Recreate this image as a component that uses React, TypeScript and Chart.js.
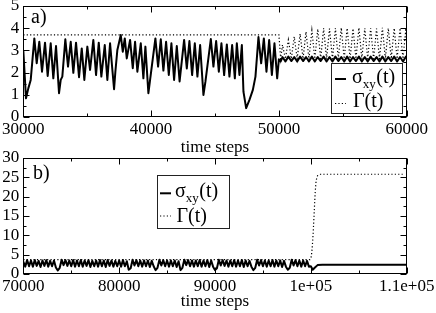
import { useEffect, useRef } from 'react';
import { Chart, registerables } from 'chart.js';

Chart.register(...registerables);

const FONT = '"Liberation Serif", "Times New Roman", Times, serif';

// ---------- text ----------
const X_TITLE = 'time steps';
const TAG_A = 'a)';
const TAG_B = 'b)';
const SIGMA_GLYPH = 'σ';
const SIGMA_SUB = 'xy';
const GAMMA_GLYPH = 'Γ';
const ARG = '(t)';

// ---------- panel a ----------
const A_X_MIN = 30000;
const A_X_MAX = 60000;
const A_X_STEP = 5000;
const A_X_LABEL_EVERY = 10000;
const A_Y_MIN = 0;
const A_Y_MAX = 5;
const A_Y_STEP = 0.5;
const A_Y_LABEL_EVERY = 1;

const A_SIGMA_T = [
  30000, 30211, 30392, 30580, 30863, 31048, 31253, 31464, 31699, 31908,
  32145, 32349, 32560, 32795, 32928, 33054, 33289, 33500, 33711, 33915,
  34126, 34361, 34573, 34776, 35011, 35223, 35481, 35692, 35904, 36107,
  36374, 36577, 36789, 37102, 37204, 37360, 37626, 37783, 37940, 38096,
  38355, 38566, 38746, 38926, 39192, 39396, 39553, 39788, 39921, 40336,
  40547, 40758, 40962, 41173, 41385, 41589, 41800, 42011, 42230, 42583,
  42794, 42998, 43209, 43420, 43624, 43836, 44094, 44251, 44673, 44877,
  45089, 45300, 45503, 45715, 45926, 46130, 46341, 46553, 46709, 46913,
  47101, 47226, 47437, 47696, 47962, 48166, 48401, 48612, 48823, 49027,
  49238, 49450, 49653, 49865, 50000,
];
const A_SIGMA_V = [
  3.02, 0.84, 1.29, 1.67, 3.54, 2.42, 3.39, 2.04, 3.35, 1.85,
  3.32, 1.74, 3.2, 1.07, 1.67, 1.82, 3.5, 2.27, 3.39, 1.99,
  3.35, 1.79, 3.09, 1.67, 3.17, 2.12, 3.47, 1.89, 3.35, 1.82,
  3.24, 1.67, 3.32, 1.25, 2.04, 3.02, 3.69, 2.94, 3.54, 2.64,
  3.47, 2.2, 3.39, 2.04, 3.32, 1.74, 3.17, 1.07, 1.67, 3.54,
  2.27, 3.5, 2.09, 3.39, 1.89, 3.32, 1.67, 3.2, 1.6, 3.47,
  2.19, 3.42, 1.89, 3.32, 1.82, 3.24, 0.99, 1.59, 3.51, 2.27,
  3.42, 2.04, 3.32, 1.89, 3.27, 1.82, 3.24, 1.74, 3.32, 1.89,
  3.24, 1.14, 0.4, 0.77, 1.22, 1.82, 3.6, 2.42, 3.54, 2.04,
  3.47, 1.89, 3.32, 1.74, 2.6,
];
// after 50000 both quantities share the same turning times
const A_TAIL_T = [
  50140, 50280, 50510, 50740, 50970, 51200, 51430, 51660, 51890, 52120,
  52350, 52580, 52810, 53040, 53270, 53500, 53730, 53960, 54190, 54420,
  54650, 54880, 55110, 55340, 55570, 55800, 56030, 56260, 56490, 56720,
  56950, 57180, 57410, 57640, 57870, 58100, 58330, 58560, 58790, 59020,
  59250, 59480, 59710, 59940, 60000,
];
const A_SIGMA_TAIL_V = [
  2.5, 2.7, 2.5, 2.72, 2.52, 2.7, 2.5, 2.72, 2.52, 2.7,
  2.5, 2.72, 2.5, 2.7, 2.52, 2.72, 2.5, 2.7, 2.5, 2.72,
  2.52, 2.7, 2.5, 2.72, 2.5, 2.7, 2.52, 2.72, 2.5, 2.7,
  2.5, 2.72, 2.52, 2.7, 2.5, 2.72, 2.5, 2.7, 2.52, 2.72,
  2.5, 2.7, 2.5, 2.72, 2.64,
];
const A_GAMMA_HEAD_T = [30000, 50000];
const A_GAMMA_HEAD_V = [3.7, 3.7];
const A_GAMMA_TAIL_V = [
  2.62, 3.25, 2.62, 3.47, 2.62, 3.62, 2.62, 3.75, 2.62, 3.84,
  2.62, 3.9, 2.62, 3.96, 2.62, 4.0, 2.62, 3.98, 2.62, 4.0,
  2.62, 4.02, 2.62, 4.0, 2.62, 3.98, 2.62, 4.02, 2.62, 4.0,
  2.62, 4.0, 2.62, 3.98, 2.62, 4.02, 2.62, 4.0, 2.62, 4.0,
  2.62, 4.0, 2.62, 4.0, 3.3,
];

// ---------- panel b ----------
const B_X_MIN = 70000;
const B_X_MAX = 110000;
const B_X_STEP = 5000;
const B_X_LABEL_EVERY = 10000;
const B_Y_MIN = 0;
const B_Y_MAX = 30;
const B_Y_STEP = 2.5;
const B_Y_LABEL_EVERY = 5;

// sigma sampled every 200 steps from 70000 to 100000
const B_SIGMA_START = 70000;
const B_SIGMA_STEP = 200;
const B_SIGMA_V = [
  3.2, 1.9, 3.6, 2.0, 3.5, 1.9, 3.6, 2.1, 3.4, 1.8,
  3.5, 2.1, 3.6, 1.9, 3.4, 2.0, 3.5, 1.7, 0.9, 1.6,
  3.7, 2.3, 3.6, 2.1, 3.5, 2.0, 3.6, 1.9, 3.5, 2.0,
  3.6, 1.9, 3.5, 2.1, 3.6, 1.8, 3.4, 2.0, 3.5, 1.9,
  3.6, 2.0, 3.5, 1.8, 3.6, 2.1, 3.5, 1.9, 3.4, 2.0,
  3.5, 1.9, 3.6, 2.0, 3.3, 1.1, 1.5, 3.7, 2.2, 3.6,
  2.0, 3.5, 1.9, 3.5, 2.0, 3.5, 1.8, 3.4, 2.0, 1.0,
  1.6, 3.7, 2.2, 3.6, 2.0, 3.5, 1.9, 3.5, 2.0, 3.5,
  1.8, 3.3, 1.0, 1.6, 3.7, 2.3, 3.6, 2.0, 3.5, 1.9,
  3.5, 2.0, 3.6, 1.9, 3.5, 2.0, 3.6, 1.8, 3.5, 1.9,
  1.0, 1.5, 3.7, 2.2, 3.6, 2.1, 3.5, 1.9, 3.5, 2.0,
  3.6, 1.9, 3.5, 2.0, 3.6, 1.8, 3.5, 2.0, 3.4, 1.9,
  1.0, 1.6, 3.7, 2.2, 3.6, 2.0, 3.5, 1.9, 3.5, 2.0,
  3.6, 1.9, 3.5, 2.0, 3.5, 1.8, 3.4, 1.9, 1.1, 1.6,
  3.7, 2.2, 3.6, 2.0, 3.5, 1.9, 3.5, 2.0, 3.4, 1.9,
  2.0,
];
const B_SIGMA_TAIL_T = [100200, 100400, 100700, 101200, 110000];
const B_SIGMA_TAIL_V = [1.1, 1.6, 2.3, 2.4, 2.4];
const B_GAMMA_T = [70000, 99900, 100050, 100150, 100250, 100350, 100450, 100550, 100700, 101000, 109750];
const B_GAMMA_V = [3.7, 3.7, 4.5, 7, 11, 16, 21, 24.2, 25.4, 25.8, 25.8];

// ---------- helpers ----------
const zip = (t: number[], v: number[]) => {
  const n = Math.min(t.length, v.length);
  const out: { x: number; y: number }[] = [];
  for (let i = 0; i < n; i++) out.push({ x: t[i], y: v[i] });
  return out;
};
const sampled = (start: number, step: number, v: number[]) => v.map((y, i) => ({ x: start + i * step, y }));

const fmtTick = (v: number) => {
  if (v < 100000) return String(v);
  const e = Math.floor(Math.log10(v));
  const m = +(v / Math.pow(10, e)).toFixed(3);
  return `${m}e+${String(e).padStart(2, '0')}`;
};
const isMultiple = (v: number, m: number) => Math.abs(v / m - Math.round(v / m)) < 1e-6;

const drawSigmaLabel = (ctx: CanvasRenderingContext2D, x: number, baseline: number) => {
  ctx.font = `20px ${FONT}`;
  ctx.fillText(SIGMA_GLYPH, x, baseline);
  let w = ctx.measureText(SIGMA_GLYPH).width;
  ctx.font = `13px ${FONT}`;
  ctx.fillText(SIGMA_SUB, x + w, baseline + 5);
  w += ctx.measureText(SIGMA_SUB).width;
  ctx.font = `20px ${FONT}`;
  ctx.fillText(ARG, x + w + 0.5, baseline);
};

const framePlugin = {
  id: 'frameTicks',
  afterDatasetsDraw(chart: any) {
    const { ctx, chartArea: a, scales } = chart;
    const L = Math.round(a.left) + 0.5;
    const R = Math.round(a.right) - 0.5;
    const T = Math.round(a.top) + 0.5;
    const B = Math.round(a.bottom) - 0.5;
    ctx.save();
    ctx.strokeStyle = '#000';
    ctx.lineWidth = 1;
    ctx.setLineDash([]);
    ctx.strokeRect(L, T, R - L, B - T);
    ctx.beginPath();
    for (const t of scales.x.ticks) {
      const px = Math.round(scales.x.getPixelForValue(t.value)) + 0.5;
      const len = t.label !== '' ? 6 : 3;
      ctx.moveTo(px, B); ctx.lineTo(px, B - len);
      ctx.moveTo(px, T); ctx.lineTo(px, T + len);
    }
    for (const t of scales.y.ticks) {
      const py = Math.round(scales.y.getPixelForValue(t.value)) + 0.5;
      const len = t.label !== '' ? 6 : 3;
      ctx.moveTo(L, py); ctx.lineTo(L + len, py);
      ctx.moveTo(R, py); ctx.lineTo(R - len, py);
    }
    ctx.stroke();
    ctx.restore();
  },
};

interface LegendGeom {
  x: number; y: number; w: number; h: number;
  s0: number; s1: number; r1y: number; r1b: number; t1x: number;
  r2y: number; r2b: number; t2x: number;
}

const makeDecor = (tag: string, tagX: number, tagY: number, lg: LegendGeom) => ({
  id: 'decor',
  afterDraw(chart: any) {
    const ctx: CanvasRenderingContext2D = chart.ctx;
    ctx.save();
    ctx.fillStyle = '#000';
    ctx.textBaseline = 'alphabetic';
    ctx.textAlign = 'left';
    ctx.font = `20px ${FONT}`;
    ctx.fillText(tag, tagX, tagY);
    // legend box
    ctx.fillStyle = '#fff';
    ctx.fillRect(lg.x, lg.y, lg.w, lg.h);
    ctx.strokeStyle = '#222';
    ctx.lineWidth = 1;
    ctx.strokeRect(lg.x + 0.5, lg.y + 0.5, lg.w, lg.h);
    // sigma row
    ctx.strokeStyle = '#000';
    ctx.lineWidth = 2;
    ctx.beginPath();
    ctx.moveTo(lg.s0, lg.r1y); ctx.lineTo(lg.s1, lg.r1y);
    ctx.stroke();
    ctx.fillStyle = '#000';
    drawSigmaLabel(ctx, lg.t1x, lg.r1b);
    // gamma row
    ctx.lineWidth = 1.2;
    ctx.setLineDash([1.2, 2.2]);
    ctx.beginPath();
    ctx.moveTo(lg.s0, lg.r2y); ctx.lineTo(lg.s1, lg.r2y);
    ctx.stroke();
    ctx.setLineDash([]);
    ctx.font = `20px ${FONT}`;
    ctx.fillText(GAMMA_GLYPH + ARG, lg.t2x, lg.r2b);
    ctx.restore();
  },
});

interface PanelSpec {
  xMin: number; xMax: number; xStep: number; xEvery: number;
  yMin: number; yMax: number; yStep: number; yEvery: number;
  sigma: { x: number; y: number }[];
  gamma: { x: number; y: number }[];
  pad: { left: number; right: number; top: number; bottom: number };
  yWidth: number; xHeight: number; titlePad: number;
  decor: any;
}

const makeConfig = (p: PanelSpec): any => ({
  type: 'line',
  data: {
    datasets: [
      {
        label: SIGMA_GLYPH + SIGMA_SUB + ARG,
        data: p.sigma,
        borderColor: '#000',
        borderWidth: 2,
        pointRadius: 0,
        tension: 0,
        borderJoinStyle: 'round',
        fill: false,
      },
      {
        label: GAMMA_GLYPH + ARG,
        data: p.gamma,
        borderColor: '#000',
        borderWidth: 1.2,
        borderDash: [1.2, 2.2],
        pointRadius: 0,
        tension: 0,
        fill: false,
      },
    ],
  },
  options: {
    animation: false,
    responsive: false,
    maintainAspectRatio: false,
    devicePixelRatio: 1,
    events: [],
    layout: { padding: p.pad },
    plugins: { legend: { display: false }, tooltip: { enabled: false }, title: { display: false } },
    scales: {
      x: {
        type: 'linear',
        min: p.xMin,
        max: p.xMax,
        grid: { display: false, drawTicks: false },
        border: { display: false },
        ticks: {
          stepSize: p.xStep,
          autoSkip: false,
          maxRotation: 0,
          minRotation: 0,
          padding: 2,
          color: '#000',
          font: { family: FONT, size: 17 },
          callback: (v: number) => (isMultiple(v, p.xEvery) ? fmtTick(v) : ''),
        },
        title: {
          display: true,
          text: X_TITLE,
          color: '#000',
          font: { family: FONT, size: 17 },
          padding: { top: 0, bottom: p.titlePad },
        },
        afterFit: (s: any) => {
          s.height = p.xHeight;
          s.paddingLeft = 0;
          s.paddingRight = 0;
        },
      },
      y: {
        type: 'linear',
        min: p.yMin,
        max: p.yMax,
        grid: { display: false, drawTicks: false },
        border: { display: false },
        ticks: {
          stepSize: p.yStep,
          autoSkip: false,
          padding: 4,
          color: '#000',
          font: { family: FONT, size: 17 },
          callback: (v: number) => (isMultiple(v, p.yEvery) ? String(v) : ''),
        },
        afterFit: (s: any) => {
          s.width = p.yWidth;
          s.paddingTop = 0;
          s.paddingBottom = 0;
        },
      },
    },
  },
  plugins: [framePlugin, p.decor],
});

const PANEL_A: PanelSpec = {
  xMin: A_X_MIN, xMax: A_X_MAX, xStep: A_X_STEP, xEvery: A_X_LABEL_EVERY,
  yMin: A_Y_MIN, yMax: A_Y_MAX, yStep: A_Y_STEP, yEvery: A_Y_LABEL_EVERY,
  sigma: zip(A_SIGMA_T, A_SIGMA_V).concat(zip(A_TAIL_T, A_SIGMA_TAIL_V)),
  gamma: zip(A_GAMMA_HEAD_T, A_GAMMA_HEAD_V).concat(zip(A_TAIL_T, A_GAMMA_TAIL_V)),
  pad: { left: 0, right: 29.3, top: 6, bottom: 0 },
  yWidth: 23.3, xHeight: 41, titlePad: 0,
  decor: makeDecor(TAG_A, 31, 23, {
    x: 331, y: 63, w: 71, h: 50,
    s0: 335, s1: 346, r1y: 79, r1b: 83, t1x: 352,
    r2y: 103.5, r2b: 107, t2x: 353,
  }),
};

const PANEL_B: PanelSpec = {
  xMin: B_X_MIN, xMax: B_X_MAX, xStep: B_X_STEP, xEvery: B_X_LABEL_EVERY,
  yMin: B_Y_MIN, yMax: B_Y_MAX, yStep: B_Y_STEP, yEvery: B_Y_LABEL_EVERY,
  sigma: sampled(B_SIGMA_START, B_SIGMA_STEP, B_SIGMA_V).concat(zip(B_SIGMA_TAIL_T, B_SIGMA_TAIL_V)),
  gamma: zip(B_GAMMA_T, B_GAMMA_V),
  pad: { left: 0, right: 29.3, top: 18, bottom: 0 },
  yWidth: 23.3, xHeight: 39, titlePad: 1.3,
  decor: makeDecor(TAG_B, 33, 38.5, {
    x: 157, y: 35, w: 72, h: 53,
    s0: 160, s1: 171, r1y: 53.3, r1b: 57, t1x: 175,
    r2y: 76, r2b: 82, t2x: 176.5,
  }),
};

export default function App() {
  const refA = useRef<HTMLCanvasElement>(null);
  const refB = useRef<HTMLCanvasElement>(null);
  useEffect(() => {
    const a = new Chart(refA.current as HTMLCanvasElement, makeConfig(PANEL_A));
    const b = new Chart(refB.current as HTMLCanvasElement, makeConfig(PANEL_B));
    return () => {
      a.destroy();
      b.destroy();
    };
  }, []);
  return (
    <div style={{ position: 'absolute', left: 0, top: 0, width: 436, height: 313, background: '#fff' }}>
      <canvas ref={refA} width={436} height={158} style={{ position: 'absolute', left: 0, top: 0 }} />
      <canvas ref={refB} width={436} height={173} style={{ position: 'absolute', left: 0, top: 140 }} />
    </div>
  );
}
